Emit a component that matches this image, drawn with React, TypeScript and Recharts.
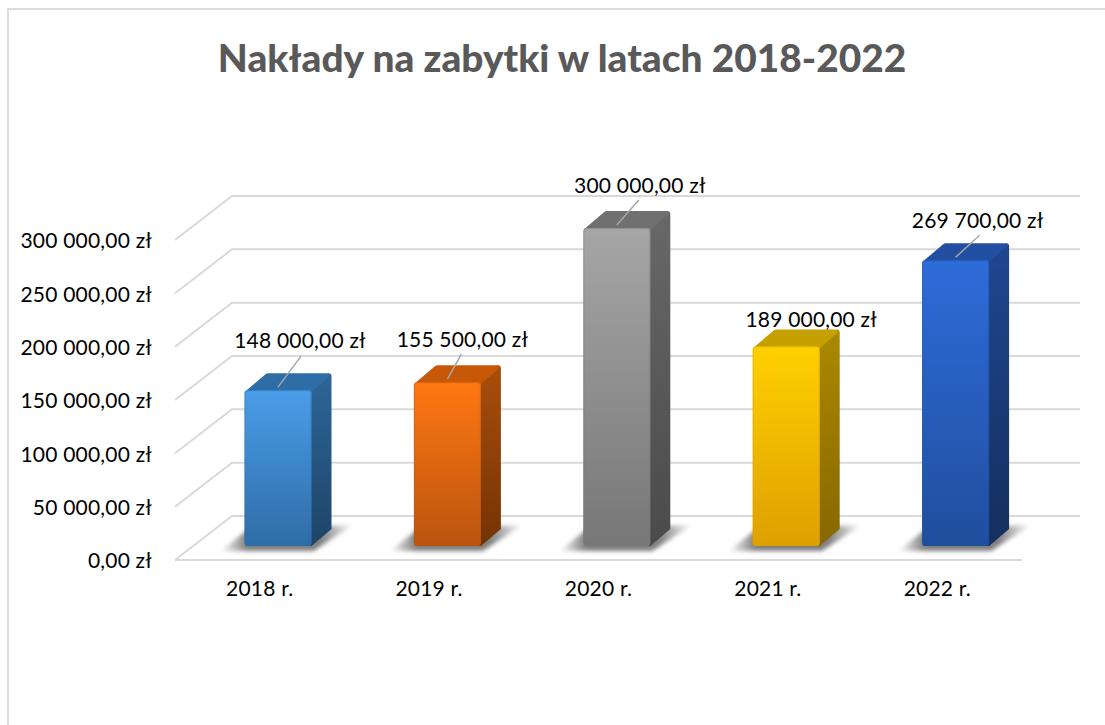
import React from "react";
import { BarChart, Bar, XAxis, YAxis, CartesianGrid, LabelList } from "recharts";

const categories = ["2018 r.", "2019 r.", "2020 r.", "2021 r.", "2022 r."];
const values = [148000, 155500, 300000, 189000, 269700];
const yTicks = [0, 50000, 100000, 150000, 200000, 250000, 300000];
const titleText = "Nakłady na zabytki w latach 2018-2022";

const data = categories.map((year, i) => ({ year, value: values[i] }));

// visual style per bar: front top, front bottom, side top, side bottom, roof
const palette = [
  ["#4a9de9", "#2f6ca6", "#2d6698", "#1d4468", "#2f6da6"],
  ["#ff7711", "#bb5410", "#a94e0c", "#743304", "#c65808"],
  ["#a6a6a6", "#777777", "#686868", "#4a4a4a", "#707070"],
  ["#ffd000", "#dea000", "#ab8900", "#876800", "#c4a000"],
  ["#2e6cd9", "#204e9e", "#1f4791", "#152f5e", "#234fa2"],
];
// label centre relative to the bar's front-top centre, and whether a leader line shows
const labelOffsets = [
  [22, -51, 1],
  [15, -44, 1],
  [23, -44, 1],
  [25, -28, 0],
  [22, -41, 1],
];
const leaderEnds = [
  [23, -31],
  [14, -25],
  [22, -25],
  [0, 0],
  [24, -22],
];

const GRID = "#d9d9d9";
const FONT = "Lato, Carlito, Calibri, sans-serif";
const DEPTH_X = 57;
const DEPTH_Y = 44;
const BACK_END = 1080;
const BAR_SHIFT = 18.5;
const SIDE_X = 20;
const SIDE_Y = 17;
const LABEL_SIZE = 21;
const LABEL_SPACING = 0.2;

const fmt = (v: number) => `${String(v).replace(/\B(?=(\d{3})+$)/g, " ")},00 zł`;

const gridLine = (p: any) => {
  const { x1, x2, y1, index } = p;
  const bx = x1 + DEPTH_X;
  const by = y1 - DEPTH_Y;
  return (
    <g key={`g-${y1}-${index}`}>
      <polyline points={`${x1},${y1} ${bx},${by} ${BACK_END},${by}`} fill="none" stroke={GRID} strokeWidth={2} />
      {Math.abs(y1 - 560) < 1 && <line x1={x1} y1={y1} x2={x2} y2={y1} stroke={GRID} strokeWidth={2} />}
    </g>
  );
};

const Bar3D = (p: any) => {
  const { x, y, width, height, index } = p;
  const [fTop, fBot, sTop, sBot, roof] = palette[index];
  const x0 = x + BAR_SHIFT;
  const x1 = x0 + width;
  const top = y - 12;
  const bottom = y + height - 14;
  return (
    <g>
      <defs>
        <linearGradient id={`front${index}`} x1="0" y1="0" x2="0" y2="1">
          <stop offset="0" stopColor={fTop} />
          <stop offset="1" stopColor={fBot} />
        </linearGradient>
        <linearGradient id={`side${index}`} x1="0" y1="0" x2="0" y2="1">
          <stop offset="0" stopColor={sTop} />
          <stop offset="1" stopColor={sBot} />
        </linearGradient>
        <linearGradient id={`shadow${index}`} x1="0" y1="0" x2="1" y2="0">
          <stop offset="0" stopColor="#000" stopOpacity="0" />
          <stop offset="0.2" stopColor="#000" stopOpacity="0.5" />
          <stop offset="0.75" stopColor="#000" stopOpacity="0.5" />
          <stop offset="1" stopColor="#000" stopOpacity="0" />
        </linearGradient>
        <filter id={`blur${index}`} x="-20%" y="-50%" width="140%" height="200%">
          <feGaussianBlur stdDeviation="2" />
        </filter>
      </defs>
      <polygon
        points={`${x0 - 24},${bottom + 5} ${x0 + 4},${bottom - 17} ${x1 + 42},${bottom - 21} ${x1 + 2},${bottom + 5}`}
        fill={`url(#shadow${index})`}
        filter={`url(#blur${index})`}
      />
      <path
        d={`M${x1 - 2},${top} L${x1 - 2},${bottom} L${x1},${bottom} L${x1 + SIDE_X},${bottom - SIDE_Y} L${x1 + SIDE_X},${top - SIDE_Y + 3} Q${x1 + SIDE_X},${top - SIDE_Y} ${x1 + SIDE_X - 3},${top - SIDE_Y} Z`}
        fill={`url(#side${index})`}
      />
      <path
        d={`M${x0 + 1},${top + 1} L${x0 + SIDE_X + 1},${top - SIDE_Y + 1} Q${x0 + SIDE_X + 2},${top - SIDE_Y} ${x0 + SIDE_X + 4},${top - SIDE_Y} L${x1 + SIDE_X - 3},${top - SIDE_Y} L${x1 + SIDE_X - 1},${top - SIDE_Y + 2} L${x1},${top + 2} Z`}
        fill={roof}
      />
      <rect x={x0} y={top} width={width} height={bottom - top} rx={3} ry={3} fill={`url(#front${index})`} />
      <rect x={x0 + 0.5} y={top + 0.5} width={width - 1} height={bottom - top - 1} rx={3} ry={3} fill="none" stroke={fBot} strokeOpacity={0.45} />
    </g>
  );
};

const BarLabel = (p: any) => {
  const { x, y, width, value, index } = p;
  const cx = x + BAR_SHIFT + width / 2;
  const top = y - 12;
  const [dx, dy, leader] = labelOffsets[index];
  const [ex, ey] = leaderEnds[index];
  return (
    <g>
      {leader ? <line x1={cx} y1={top - 3} x2={cx + ex} y2={top + ey - 3} stroke="#a6a6a6" strokeWidth={1.5} /> : null}
      <text x={cx + dx} y={top + dy} textAnchor="middle" dominantBaseline="central" fontFamily={FONT} fontSize={LABEL_SIZE} letterSpacing={LABEL_SPACING} fill="#000">
        {fmt(value)}
      </text>
    </g>
  );
};

export default function App() {
  return (
    <div style={{ position: "absolute", left: 0, top: 0, width: 1105, height: 725, overflow: "hidden", background: "#fff" }}>
      <div style={{ position: "absolute", left: 7, top: 8, right: 0, bottom: 0, borderLeft: "2px solid #dcdcdc", borderTop: "2px solid #dcdcdc" }} />
      <BarChart
        width={1105}
        height={725}
        data={data}
        margin={{ left: 5, right: 83, top: 240, bottom: 100 }}
        style={{ position: "absolute", left: 0, top: 0 }}
      >
        <text x={562} y={57} textAnchor="middle" dominantBaseline="central" fontFamily={FONT} fontWeight={900} fontSize={38.8} fill="#595959">
          {titleText}
        </text>
        <CartesianGrid vertical={false} horizontal={gridLine} />
        <XAxis
          dataKey="year"
          height={65}
          axisLine={false}
          tickLine={false}
          tickSize={0}
          tickMargin={21}
          tick={{ fontFamily: FONT, fontSize: LABEL_SIZE, fill: "#000", letterSpacing: LABEL_SPACING }}
        />
        <YAxis
          width={170}
          domain={[0, 300000]}
          ticks={yTicks}
          tickFormatter={fmt}
          axisLine={false}
          tickLine={false}
          tickSize={0}
          tickMargin={23}
          dy={1}
          tick={{ fontFamily: FONT, fontSize: LABEL_SIZE, fill: "#000", letterSpacing: LABEL_SPACING }}
        />
        <Bar dataKey="value" barSize={67} isAnimationActive={false} shape={Bar3D}>
          <LabelList dataKey="value" content={BarLabel} />
        </Bar>
      </BarChart>
    </div>
  );
}
